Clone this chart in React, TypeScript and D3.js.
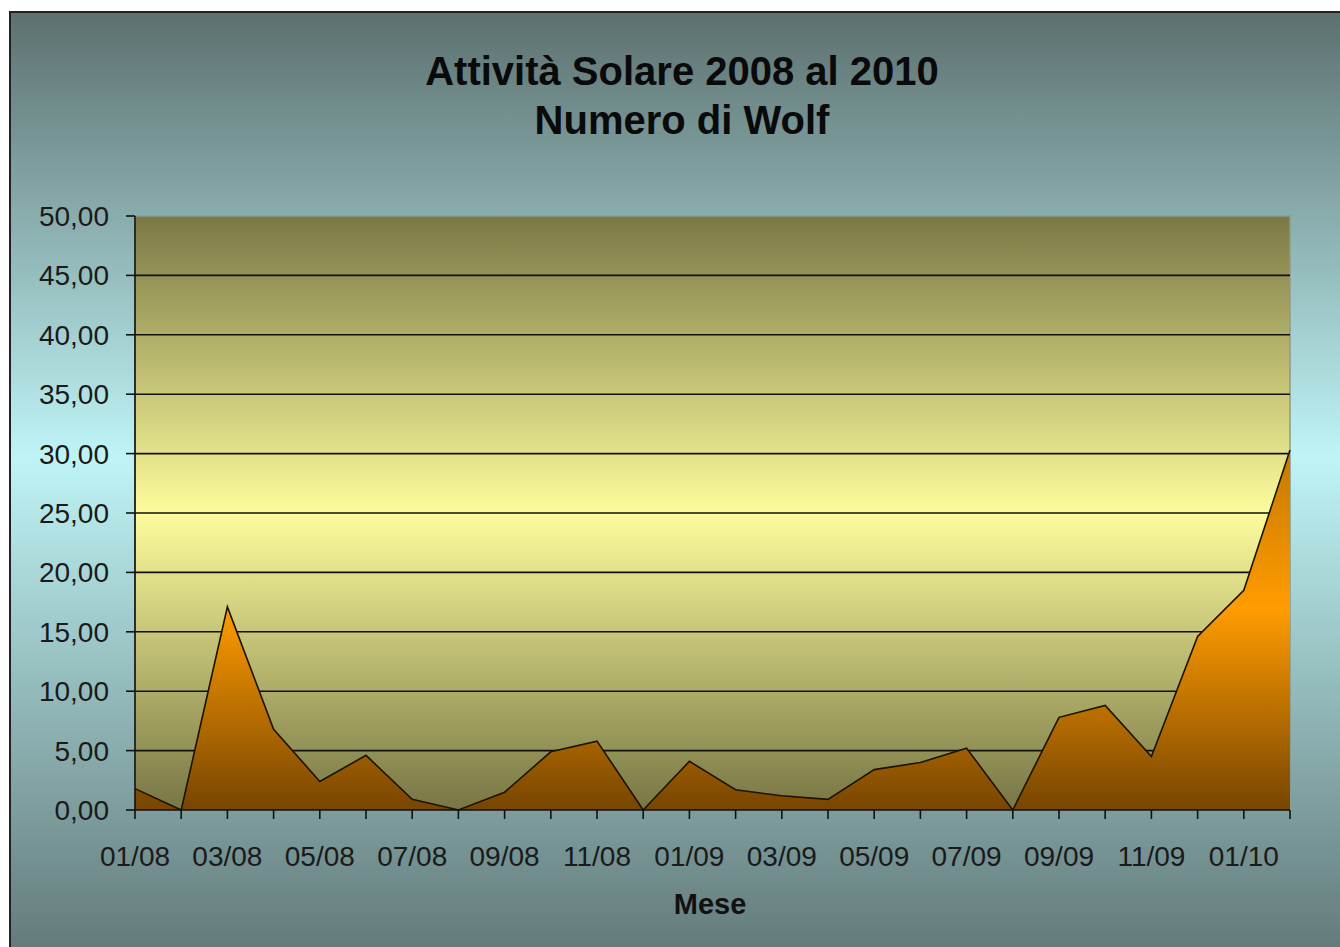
import React from "react";
import * as d3 from "d3";

const months = [
  "01/08","02/08","03/08","04/08","05/08","06/08","07/08","08/08","09/08","10/08","11/08","12/08",
  "01/09","02/09","03/09","04/09","05/09","06/09","07/09","08/09","09/09","10/09","11/09","12/09",
  "01/10","02/10",
];
const wolf = [
  1.8, 0, 17.1, 6.8, 2.4, 4.6, 0.9, 0, 1.5, 4.9, 5.8, 0,
  4.1, 1.7, 1.2, 0.9, 3.4, 4.0, 5.2, 0, 7.8, 8.8, 4.5, 14.6,
  18.5, 30.3,
];
const yTicks = [0, 5, 10, 15, 20, 25, 30, 35, 40, 45, 50];
const titleLines = ["Attività Solare 2008 al 2010", "Numero di Wolf"];
const xTitle = "Mese";

const W = 1340;
const H = 947;
const plot = { left: 135, right: 1290, top: 216, bottom: 810 };
const FONT = "'Liberation Sans', Arial, sans-serif";

export default function App() {
  const x = d3.scalePoint<string>().domain(months).range([plot.left, plot.right]).padding(0);
  const y = d3.scaleLinear().domain([0, 50]).range([plot.bottom, plot.top]);
  const data = months.map((m, i) => ({ m, v: wolf[i] }));
  const area = d3.area<{ m: string; v: number }>()
    .x((d) => x(d.m) as number)
    .y0(y(0))
    .y1((d) => y(d.v));
  const line = d3.line<{ m: string; v: number }>()
    .x((d) => x(d.m) as number)
    .y((d) => y(d.v));
  const fmt = (v: number) => v.toFixed(2).replace(".", ",");

  return (
    <svg width={W} height={H} style={{ position: "absolute", left: 0, top: 0, display: "block" }}>
      <defs>
        <linearGradient id="bg" x1="0" y1="0" x2="0" y2="1">
          <stop offset="0" stopColor="#5c706f" />
          <stop offset="0.47" stopColor="#bff4f6" />
          <stop offset="1" stopColor="#627878" />
        </linearGradient>
        <linearGradient id="pa" gradientUnits="userSpaceOnUse" x1="0" y1={plot.top} x2="0" y2={plot.bottom}>
          <stop offset="0" stopColor="#7a7946" />
          <stop offset="0.5" stopColor="#fdfc9c" />
          <stop offset="1" stopColor="#777645" />
        </linearGradient>
        <linearGradient id="ar" gradientUnits="userSpaceOnUse" x1="0" y1={plot.top} x2="0" y2={plot.bottom}>
          <stop offset="0" stopColor="#6e4200" />
          <stop offset="0.66" stopColor="#ff9c00" />
          <stop offset="1" stopColor="#774500" />
        </linearGradient>
      </defs>
      <rect x={0} y={0} width={W} height={H} fill="#ffffff" />
      <rect x={10} y={12} width={W} height={H} fill="url(#bg)" stroke="#222" strokeWidth={2} />

      {titleLines.map((t, i) => (
        <text key={i} x={682} y={85 + i * 49} textAnchor="middle" fontFamily={FONT} fontWeight="bold"
          fontSize={40} fill="#0a0a0a">{t}</text>
      ))}

      <rect x={plot.left} y={plot.top} width={plot.right - plot.left} height={plot.bottom - plot.top}
        fill="url(#pa)" stroke="#8a9a90" strokeWidth={1.5} />

      {yTicks.filter((t) => t > 0 && t < 50).map((t) => (
        <line key={t} x1={plot.left} x2={plot.right} y1={y(t)} y2={y(t)} stroke="#111" strokeWidth={1.6} />
      ))}

      <path d={area(data) || ""} fill="url(#ar)" />
      <path d={line(data) || ""} fill="none" stroke="#1e1200" strokeWidth={1.6} />

      {/* axes */}
      <line x1={plot.left} x2={plot.left} y1={plot.top} y2={plot.bottom} stroke="#111" strokeWidth={1.6} />
      <line x1={plot.left} x2={plot.right} y1={plot.bottom} y2={plot.bottom} stroke="#111" strokeWidth={1.6} />
      {yTicks.map((t) => (
        <g key={t}>
          <line x1={plot.left - 9} x2={plot.left} y1={y(t)} y2={y(t)} stroke="#111" strokeWidth={1.6} />
          <text x={109} y={y(t) + 10} textAnchor="end" fontFamily={FONT} fontSize={28} fill="#1a1a1a">{fmt(t)}</text>
        </g>
      ))}
      {months.map((m, i) => (
        <g key={m}>
          <line x1={x(m) as number} x2={x(m) as number} y1={plot.bottom} y2={plot.bottom + 9} stroke="#111" strokeWidth={1.6} />
          {i % 2 === 0 && (
            <text x={x(m) as number} y={866} textAnchor="middle" fontFamily={FONT} fontSize={28} fill="#1a1a1a">{m}</text>
          )}
        </g>
      ))}
      <text x={710} y={914} textAnchor="middle" fontFamily={FONT} fontWeight="bold" fontSize={29} fill="#111">{xTitle}</text>
    </svg>
  );
}
